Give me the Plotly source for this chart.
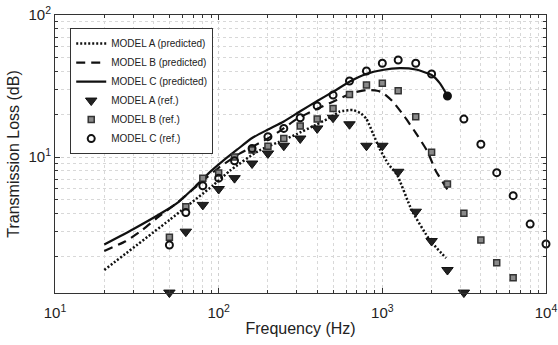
import plotly.graph_objects as go

# ---------------- data ----------------
freq_pred_A = [20, 50, 93, 117, 174, 254, 300, 390, 490, 550, 660, 740, 800, 880, 960, 1090, 1230, 1510, 1950, 2450]
tl_pred_A = [1.6, 3.6, 6.35, 8.0, 11.0, 13.3, 14.5, 16.8, 19.2, 20.9, 21.4, 20.3, 18.5, 14.5, 11.5, 8.9, 7.5, 4.23, 2.6, 1.94]

freq_pred_B = [20, 27, 34, 43, 55, 70, 85, 100, 135, 195, 240, 297, 384, 500, 658, 800, 930, 1000, 1150, 1360, 1600, 1890, 2120, 2500]
tl_pred_B = [2.18, 2.55, 3.05, 3.8, 4.7, 5.95, 7.2, 8.4, 10.6, 13.3, 15.4, 18.4, 21.4, 24.5, 28.3, 29.6, 29.3, 28.5, 24.8, 19.4, 14.8, 10.9, 8.0, 5.9]

freq_pred_C = [20, 30, 45, 57, 72, 87, 104, 130, 160, 200, 250, 315, 400, 500, 630, 800, 1000, 1280, 1600, 2000, 2250, 2500]
tl_pred_C = [2.42, 3.1, 4.05, 4.84, 6.2, 7.7, 9.2, 11.3, 13.6, 15.6, 17.8, 21.0, 24.8, 28.8, 33.9, 38.5, 41.0, 42.2, 41.3, 37.8, 33.0, 27.0]

freq_ref = [50, 63, 80, 100, 125, 160, 200, 250, 315, 400, 500, 630, 800, 1000,
            1250, 1600, 2000, 2500, 3150, 4000, 5000, 6300, 8000, 10000]
tl_ref_A = [1.11, 2.98, 4.6, 5.95, 7.1, 9.0, 10.6, 12.0, 13.5, 15.9, 18.9, 17.0, 12.0, 12.0,
            7.87, 4.12, 2.56, 1.60, 1.11]
tl_ref_B = [2.72, 4.47, 7.08, 7.7, 10.0, 11.2, 11.9, 13.5, 16.5, 18.5, 22.0, 27.6, 32.1, 33.0,
            29.3, 19.2, 10.8, 6.45, 4.01, 2.60, 1.80, 1.41]
tl_ref_C = [2.40, 4.06, 6.27, 7.1, 9.4, 11.5, 13.9, 15.9, 18.9, 22.9, 27.3, 34.3, 40.3, 45.7,
            48.2, 45.7, 38.4, 26.9, 18.5, 12.3, 7.76, 5.34, 3.37, 2.44]

x_tick_vals = [10, 100, 1000, 10000]
x_tick_text = ['10<sup>1</sup>', '10<sup>2</sup>', '10<sup>3</sup>', '10<sup>4</sup>']
y_tick_vals = [10, 100]
y_tick_text = ['10<sup>1</sup>', '10<sup>2</sup>']

names = ['MODEL A (predicted)', 'MODEL B (predicted)', 'MODEL C (predicted)',
         'MODEL A (ref.)', 'MODEL B (ref.)', 'MODEL C (ref.)']

# ---------------- figure ----------------
fig = go.Figure()
fig.add_trace(go.Scatter(x=freq_pred_A, y=tl_pred_A, mode='lines', name=names[0],
                         line=dict(color='#111', width=2.5, dash='2px,2px', shape='spline', smoothing=0.5)))
fig.add_trace(go.Scatter(x=freq_pred_B, y=tl_pred_B, mode='lines', name=names[1],
                         line=dict(color='#111', width=2.2, dash='9px,6px', shape='spline', smoothing=0.5)))
fig.add_trace(go.Scatter(x=freq_pred_C, y=tl_pred_C, mode='lines', name=names[2],
                         line=dict(color='#111', width=2.2, shape='spline', smoothing=0.5)))

fig.add_trace(go.Scatter(x=freq_ref[:len(tl_ref_A)], y=tl_ref_A, mode='markers', name=names[3],
                         cliponaxis=False,
                         marker=dict(symbol='triangle-down', size=10, color='#222',
                                     line=dict(color='#111', width=1))))
fig.add_trace(go.Scatter(x=freq_ref[:len(tl_ref_B)], y=tl_ref_B, mode='markers', name=names[4],
                         cliponaxis=False,
                         marker=dict(symbol='square', size=6, color='#8a8a8a',
                                     line=dict(color='#333', width=1.5))))
last_c = freq_pred_C[-1]
c_symbols = ['circle' if f == last_c else 'circle-open' for f in freq_ref[:len(tl_ref_C)]]
fig.add_trace(go.Scatter(x=freq_ref[:len(tl_ref_C)], y=tl_ref_C, mode='markers', name=names[5],
                         cliponaxis=False,
                         marker=dict(symbol=c_symbols, size=7, color='#111',
                                     line=dict(color='#111', width=2))))

minor_x = [m * 10 ** e for e in range(1, 4) for m in range(2, 10)]
minor_y = [m * 10 ** e for e in range(0, 2) for m in range(2, 10)]

axis_common = dict(
    type='log', showline=True, linecolor='#333', linewidth=1, mirror='ticks',
    ticks='inside', ticklen=5, tickcolor='#333', tickwidth=1,
    showgrid=True, gridcolor='#d0d0d0', griddash='dot', gridwidth=1,
    zeroline=False, tickfont=dict(size=15, color='#222'),
)

fig.update_xaxes(**axis_common, range=[1, 4], tickmode='array', tickvals=x_tick_vals, ticktext=x_tick_text,
                 ticklabelstandoff=6,
                 minor=dict(tickmode='array', tickvals=minor_x, ticks='inside', ticklen=3, tickcolor='#333',
                            showgrid=True, gridcolor='#d8d8d8', griddash='dot'),
                 title=dict(text='Frequency (Hz)', font=dict(size=16, color='#222'), standoff=2))
fig.update_yaxes(**axis_common, range=[0.0423, 2], tickmode='array', tickvals=y_tick_vals, ticktext=y_tick_text,
                 minor=dict(tickmode='array', tickvals=minor_y, ticks='inside', ticklen=3, tickcolor='#333',
                            showgrid=True, gridcolor='#d8d8d8', griddash='dot'),
                 title=dict(text='Transmission Loss (dB)', font=dict(size=16, color='#222'), standoff=4))

fig.update_layout(
    width=558, height=345,
    margin=dict(l=55, r=12, t=15, b=52, autoexpand=False),
    plot_bgcolor='white', paper_bgcolor='white',
    font=dict(family='Liberation Sans, Arial, sans-serif', color='#222'),
    legend=dict(x=0.031, y=0.953, xanchor='left', yanchor='top',
                bordercolor='#333', borderwidth=1, bgcolor='white',
                font=dict(size=10, color='#222'), itemwidth=30, tracegroupgap=0),
    showlegend=True,
)

fig.write_html('out.html')
